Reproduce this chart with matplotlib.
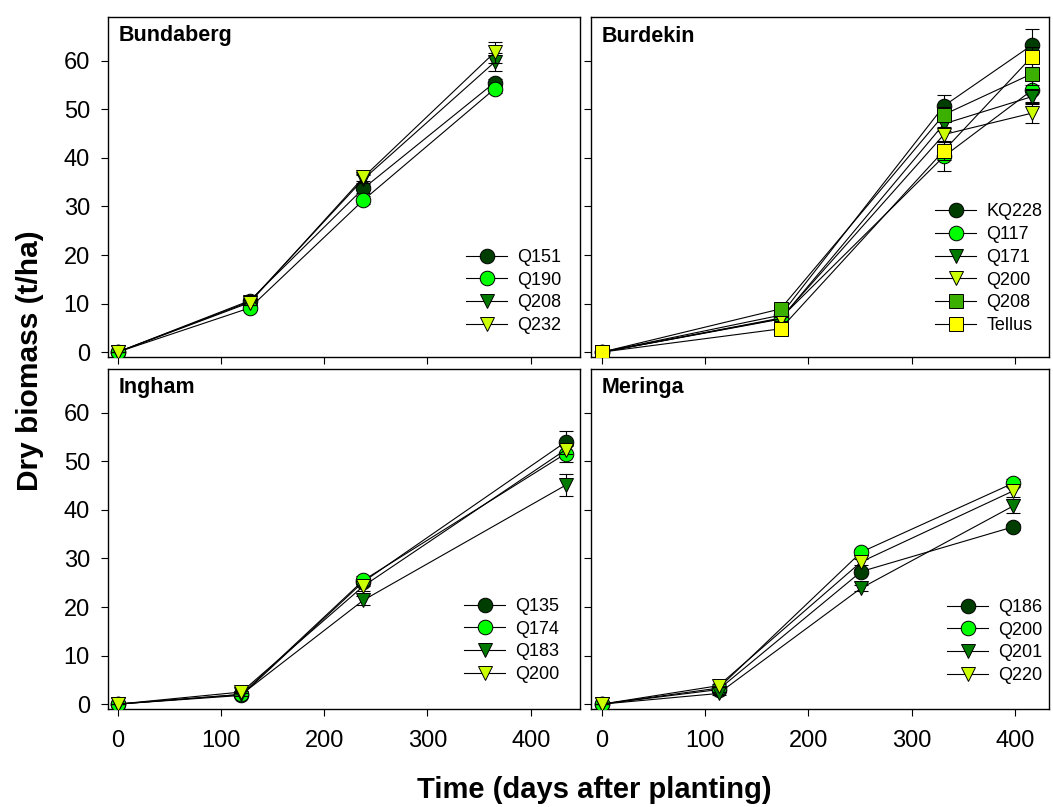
import numpy as np
import matplotlib
matplotlib.use("Agg")
import matplotlib.pyplot as plt

plt.rcParams['font.family'] = ['Liberation Sans', 'DejaVu Sans']

# Bundaberg
bund_days = [0, 128, 238, 365]
bund_names = ['Q151', 'Q190', 'Q208', 'Q232']
bund_vals = [[0, 10.6, 33.7, 55.5],
             [0, 9.1, 31.3, 54.2],
             [0, 10.4, 35.6, 59.7],
             [0, 10.2, 36.0, 61.7]]
bund_err = [[0, 0.6, 0.9, 0.8],
            [0, 0.5, 0.8, 0.9],
            [0, 0.6, 0.8, 1.8],
            [0, 0.5, 0.7, 2.2]]

# Burdekin
burd_days = [0, 173, 331, 416]
burd_names = ['KQ228', 'Q117', 'Q171', 'Q200', 'Q208', 'Tellus']
burd_vals = [[0, 7.6, 50.7, 63.2],
             [0, 7.0, 40.3, 53.9],
             [0, 6.8, 47.0, 52.6],
             [0, 6.9, 44.8, 49.2],
             [0, 8.9, 48.9, 57.3],
             [0, 4.8, 41.5, 60.8]]
burd_err = [[0, 0.5, 2.3, 3.4],
            [0, 0.5, 3.0, 2.3],
            [0, 0.5, 1.5, 1.5],
            [0, 0.5, 1.5, 2.0],
            [0, 0.6, 1.5, 2.3],
            [0, 0.5, 2.0, 2.0]]

# Ingham
ing_days = [0, 120, 238, 434]
ing_names = ['Q135', 'Q174', 'Q183', 'Q200']
ing_vals = [[0, 1.8, 25.2, 54.0],
            [0, 2.0, 25.5, 51.6],
            [0, 2.0, 21.4, 45.1],
            [0, 2.5, 24.3, 52.4]]
ing_err = [[0, 0.3, 0.8, 2.2],
           [0, 0.3, 0.8, 1.8],
           [0, 0.3, 0.9, 2.2],
           [0, 0.3, 1.0, 0.8]]

# Meringa
mer_days = [0, 113, 251, 398]
mer_names = ['Q186', 'Q200', 'Q201', 'Q220']
mer_vals = [[0, 3.0, 27.3, 36.5],
            [0, 3.3, 31.3, 45.5],
            [0, 2.2, 23.9, 40.8],
            [0, 3.8, 29.3, 43.9]]
mer_err = [[0, 0.3, 0.6, 0.6],
           [0, 0.3, 0.6, 0.8],
           [0, 0.3, 0.6, 1.4],
           [0, 0.3, 0.6, 1.2]]

styles = [('o', '#003d00'), ('o', '#00ff00'), ('v', '#007a00'),
          ('v', '#ccff00'), ('s', '#3cb000'), ('s', '#ffff00')]

fig = plt.figure(figsize=(10.53, 8.07), dpi=100)
W, H = 1053.0, 807.0


def make_ax(x0, y0, x1, y1):
    return fig.add_axes([x0 / W, 1 - y1 / H, (x1 - x0) / W, (y1 - y0) / H])


panels = [
    (make_ax(108, 17, 580, 357), 'Bundaberg', bund_days, bund_names, bund_vals, bund_err,
     (-9.2, 447.7), (0.758, 0.318), True, False),
    (make_ax(591, 17, 1049, 357), 'Burdekin', burd_days, burd_names, burd_vals, burd_err,
     (-10.3, 432.6), (0.751, 0.452), False, False),
    (make_ax(108, 369, 580, 709), 'Ingham', ing_days, ing_names, ing_vals, ing_err,
     (-9.2, 447.7), (0.754, 0.327), True, True),
    (make_ax(591, 369, 1049, 709), 'Meringa', mer_days, mer_names, mer_vals, mer_err,
     (-10.3, 432.6), (0.777, 0.324), False, True),
]

for ax, title, days, names, vals, errs, xlim, legpos, ylab, xlab in panels:
    for i, name in enumerate(names):
        m, c = styles[i]
        y = np.array(vals[i])
        e = np.array(errs[i])
        ax.errorbar(days, y, yerr=e, fmt='none', ecolor='black', elinewidth=0.8,
                    capsize=5, capthick=0.8, zorder=2 + i)
        ax.plot(days, y, color='black', lw=0.8, marker=m, markersize=10.5,
                markerfacecolor=c, markeredgecolor='black', markeredgewidth=0.7,
                label=name, zorder=2 + i)
    ax.set_xlim(*xlim)
    ax.set_ylim(-1, 69)
    ax.set_xticks([0, 100, 200, 300, 400])
    ax.set_yticks([0, 10, 20, 30, 40, 50, 60])
    ax.tick_params(direction='out', length=5, width=0.8, labelsize=17,
                   top=False, right=False)
    ax.tick_params(axis='x', pad=10)
    ax.tick_params(axis='y', pad=8)
    if not ylab:
        ax.set_yticklabels([])
    if not xlab:
        ax.set_xticklabels([])
    for sp in ax.spines.values():
        sp.set_linewidth(1.0)
    ax.text(0.023, 0.975, title, transform=ax.transAxes, fontsize=15.5,
            fontweight='bold', ha='left', va='top')
    ax.legend(loc='upper left', bbox_to_anchor=legpos, frameon=False, fontsize=13,
              borderpad=0, borderaxespad=0, handlelength=2.3, handletextpad=0.55,
              labelspacing=0.32, markerscale=1.0)

fig.text(30 / W, 1 - 361 / H, 'Dry biomass (t/ha)', rotation=90, fontsize=21.5,
         fontweight='bold', ha='center', va='center')
fig.text(594 / W, 1 - 790 / H, 'Time (days after planting)', fontsize=21,
         fontweight='bold', ha='center', va='center')

fig.savefig('out.png', dpi=100)
